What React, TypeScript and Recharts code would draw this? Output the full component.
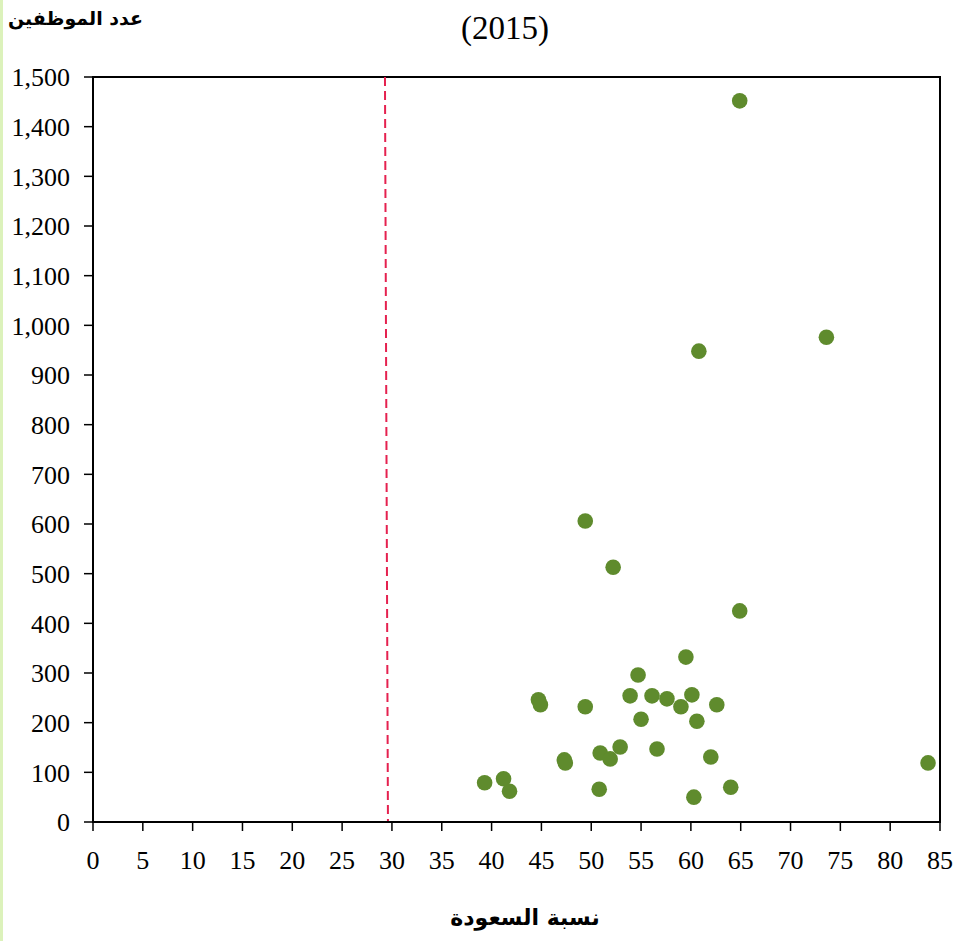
import { ScatterChart, Scatter, XAxis, YAxis, ReferenceLine, ReferenceArea } from 'recharts'

// نسبة السعودة (x) against عدد الموظفين (y), one point per company
const saudization = [
  64.9, 73.6, 60.8, 49.4, 52.2, 64.9, 59.5, 54.7, 53.9, 56.1, 57.6,
  60.1, 59.0, 62.6, 44.7, 44.9, 49.4, 55.0, 60.6, 52.9, 50.9, 51.9,
  56.6, 62.0, 47.3, 47.4, 39.3, 41.2, 41.8, 50.8, 60.3, 64.0, 83.8,
]
const employees = [
  1452, 976, 948, 606, 513, 425, 332, 296, 254, 254, 248,
  256, 232, 236, 246, 236, 232, 207, 203, 151, 139, 127,
  147, 131, 125, 119, 79, 87, 62, 66, 50, 70, 119,
]
const xTicks = [0, 5, 10, 15, 20, 25, 30, 35, 40, 45, 50, 55, 60, 65, 70, 75, 80, 85]
const yTicks = [0, 100, 200, 300, 400, 500, 600, 700, 800, 900, 1000, 1100, 1200, 1300, 1400, 1500]
const threshold = [29.3, 29.6]

const points = saudization.map((x, i) => ({ x, y: employees[i] }))

const serif = '"Liberation Serif", serif'
const arabic = '"DejaVu Sans", sans-serif'

const Dot = (props: any) => <circle cx={props.cx} cy={props.cy} r={7.8} fill="#5f8b2d" />

export default function App() {
  return (
    <div style={{ position: 'fixed', left: 0, top: 0, width: 953, height: 941, background: '#fff', overflow: 'hidden' }}>
      <div style={{ position: 'absolute', left: 0, top: 0, width: 3, height: 941, background: '#dcf2bb' }} />
      <div style={{ position: 'absolute', left: 8, top: 7, fontFamily: arabic, fontWeight: 'bold', fontSize: 19, direction: 'rtl' }}>
        عدد الموظفين
      </div>
      <div style={{ position: 'absolute', left: 0, width: 1010, top: 8, textAlign: 'center', fontFamily: serif, fontSize: 33, lineHeight: '40px' }}>
        (2015)
      </div>
      <div style={{ position: 'absolute', left: 0, width: 1050, top: 905, textAlign: 'center', fontFamily: arabic, fontWeight: 'bold', fontSize: 22, direction: 'rtl' }}>
        نسبة السعودة
      </div>
      <ScatterChart width={953} height={941} margin={{ top: 77, right: 13, bottom: 59, left: 0 }} style={{ position: 'absolute', left: 0, top: 0 }}>
        <XAxis
          type="number"
          dataKey="x"
          domain={[0, 85]}
          ticks={xTicks}
          interval={0}
          height={60}
          allowDataOverflow
          axisLine={{ stroke: '#000', strokeWidth: 2 }}
          tickLine={{ stroke: '#000', strokeWidth: 1.5 }}
          tickSize={9}
          tickMargin={20}
          tick={{ fill: '#000', fontFamily: serif, fontSize: 26 }}
        />
        <YAxis
          type="number"
          dataKey="y"
          domain={[0, 1500]}
          ticks={yTicks}
          interval={0}
          width={93}
          allowDataOverflow
          tickFormatter={(v: number) => v.toLocaleString('en-US')}
          axisLine={{ stroke: '#000', strokeWidth: 2 }}
          tickLine={{ stroke: '#000', strokeWidth: 1.5 }}
          tickSize={9}
          tickMargin={14}
          tick={{ fill: '#000', fontFamily: serif, fontSize: 26 }}
        />
        <ReferenceArea x1={0} x2={85} y1={0} y2={1500} fill="none" stroke="#000" strokeWidth={2} fillOpacity={0} />
        <ReferenceLine
          segment={[{ x: threshold[0], y: 1500 }, { x: threshold[1], y: 0 }]}
          stroke="#e5214f"
          strokeWidth={2}
          strokeDasharray="9 5"
        />
        <Scatter data={points} shape={Dot} isAnimationActive={false} />
      </ScatterChart>
    </div>
  )
}
